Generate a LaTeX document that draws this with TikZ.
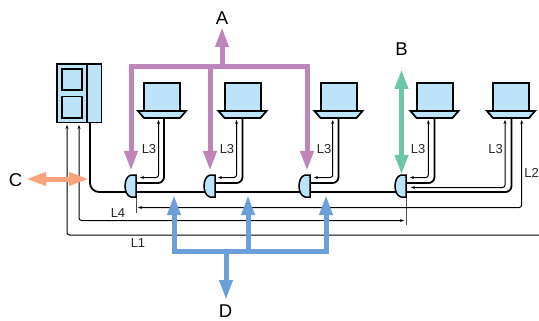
\documentclass[tikz,border=0pt]{standalone}
\usepackage{fontspec}
\setmainfont{Liberation Sans}
\usetikzlibrary{arrows.meta}
\definecolor{unitblue}{HTML}{BDE3F8}
\definecolor{purp}{HTML}{BE85BB}
\definecolor{teal2}{HTML}{6DC6AC}
\definecolor{orng}{HTML}{F9A27E}
\definecolor{blu}{HTML}{6A9FD8}
\tikzset{
  pipe/.style={draw=black,line width=1.8pt,rounded corners=6pt},
  wire/.style={draw=black,line width=1pt,rounded corners=2.5pt,{Stealth[length=4pt,width=3pt]}-{Stealth[length=4pt,width=3pt]}},
  wireplain/.style={draw=black,line width=1pt,rounded corners=2.5pt,{Stealth[length=4pt,width=3pt]}-},
  stub/.style={draw=black!70,line width=1pt},
  flow/.style={line width=5pt,-{Triangle[length=20pt,width=12.5pt]}},
  flowboth/.style={line width=5pt,{Triangle[length=20pt,width=12.5pt]}-{Triangle[length=20pt,width=12.5pt]}},
  shell/.style={draw=black,line width=1.3pt,fill=unitblue,line join=miter},
  lbl/.style={font=\fontsize{13}{13}\selectfont,inner sep=0pt,text=black!85},
  big/.style={font=\fontsize{18.5}{18.5}\selectfont,inner sep=0pt,text=black}
}
\newcommand{\indoor}[1]{%
  \fill[unitblue] (#1-18,83.5) rectangle (#1+18,111);
  \draw[black,line width=2pt,line join=miter] (#1-18,111) -- (#1-18,83.5) -- (#1+18,83.5) -- (#1+18,111);
  \draw[shell,line width=1.7pt] (#1-24,111) -- (#1+24,111) -- (#1+18,118) -- (#1-18,118) -- cycle;
}
\newcommand{\joint}[1]{%
  \draw[shell,line width=1.5pt] (#1,175) -- (#1-5,175) .. controls (#1-9,176) and (#1-11,181) .. (#1-11,186)
     .. controls (#1-11,191) and (#1-9,196) .. (#1-5,197) -- (#1,197) -- cycle;
}
\begin{document}
\begin{tikzpicture}[x=1pt,y=-1pt]
\useasboundingbox (0,0) rectangle (539,321);
\coordinate (hubA) at (222,66.5);
\coordinate (hubD) at (226,251);
% thin wires (behind)
\draw[stub] (136,196) -- (136,213);
\draw[stub] (406,196) -- (406,225);
\draw[wireplain] (67,125) -- (67,235) -- (539,235);
\draw[wire] (79,125) -- (79,220.5) -- (404,220.5);
\draw[wire] (138,207.5) -- (521.7,207.5) -- (521.7,120);
\foreach \ax/\ux in {140/158.5,218/236.5,314/332.7,410/428.3}{
  \draw[wire] (\ax,177.5) -- (\ux,177.5) -- (\ux,120);
}
\draw[wire] (411,187.5) -- (505,187.5) -- (505,120);
% refrigerant pipes
\draw[pipe,rounded corners=9pt] (90,122) -- (90,192) -- (300,192);
\draw[pipe] (300,192) -- (400,192);
\draw[pipe] (400,192) -- (511.5,192) -- (511.5,117);
\foreach \jx/\ux in {136/164,215/242.5,310/338.5,406/434.5}{
  \draw[pipe] (\jx,183) -- (\ux,183) -- (\ux,117);
}
% outdoor unit
\node[shell,minimum width=44.5pt,minimum height=58.5pt,inner sep=0pt,outer sep=0pt] (outdoor) at (79.25,93.25) {};
\draw[black,line width=1.3pt] (87,64) -- (87,122.5);
\draw[black,line width=1.5pt] (62,69) rectangle (82,90);
\draw[black,line width=1.5pt] (62,96.5) rectangle (82,118);
% indoor units
\indoor{162}\indoor{242.5}\indoor{338.5}\indoor{434.5}\indoor{511}
% joints
\joint{136}\joint{215}\joint{310}\joint{406}
\draw[stub,black] (406,176) -- (406,197);
% purple group
\draw[line width=5pt,purp,line join=miter] (131,150) -- (131,66.5) -- (307,66.5) -- (307,150);
\draw[flow,purp] (131,140) -- (131,171);
\draw[flow,purp] (210,66.5) -- (210,171);
\draw[flow,purp] (307,140) -- (307,171);
\draw[flow,purp] (hubA) -- (222,27);
% green
\draw[flowboth,teal2] (401.5,69) -- (401.5,175);
% orange
\draw[flowboth,orng] (26,179) -- (89,179);
% blue group
\draw[line width=5pt,blu,line join=miter] (174,214) -- (174,251) -- (326,251) -- (326,214);
\draw[flow,blu] (174,225) -- (174,195);
\draw[flow,blu] (248,251) -- (248,195);
\draw[flow,blu] (326,225) -- (326,195);
\draw[flow,blu] (hubD) -- (226,300);
% labels
\node[big] (la) at (222,18) {A};
\node[big] (lb) at (401.5,49.5) {B};
\node[big] (lc) at (15.5,180) {C};
\node[big] (ld) at (225.5,311.5) {D};
\node[lbl] (l3a) at (149,149) {L3};
\node[lbl] (l3b) at (227,149) {L3};
\node[lbl] (l3c) at (324,149) {L3};
\node[lbl] (l3d) at (418,149) {L3};
\node[lbl] (l3e) at (495.5,149) {L3};
\node[lbl] (l2) at (531.5,172.5) {L2};
\node[lbl] (l4) at (118,213.5) {L4};
\node[lbl] (l1) at (138,243) {L1};
\end{tikzpicture}
\end{document}
